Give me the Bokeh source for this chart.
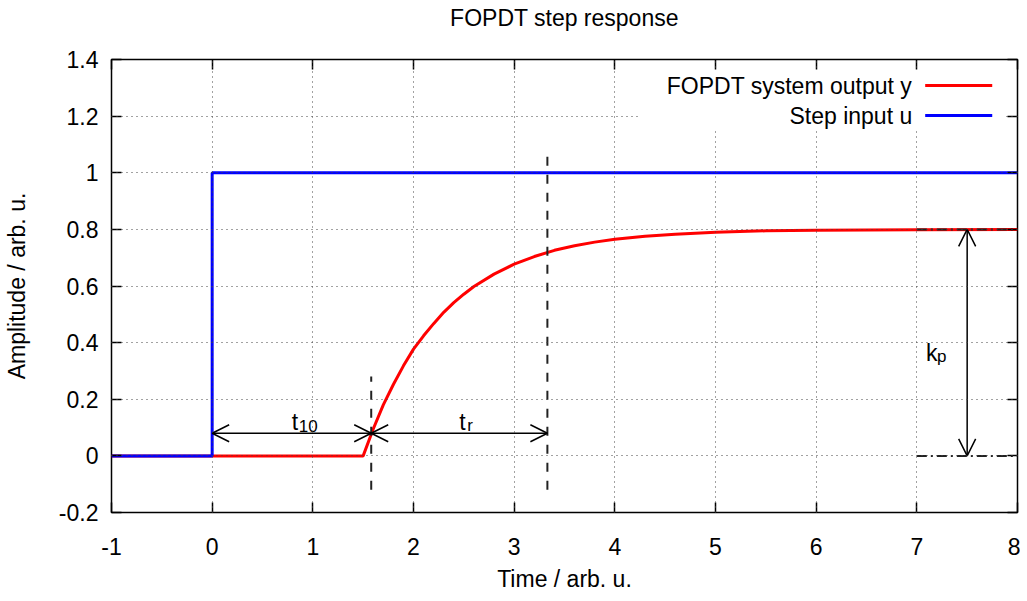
from bokeh.plotting import figure
from bokeh.models import (Range1d, LinearAxis, FixedTicker, Label, Arrow, OpenHead,
                          BoxAnnotation, CustomLabelingPolicy)
from bokeh.embed import file_html
from bokeh.resources import INLINE

# ---------------- data ----------------
# FOPDT system output y
time_y = [-1.0, 1.5, 1.6, 1.7, 1.8, 1.9, 2.0, 2.1, 2.2, 2.3, 2.4, 2.5, 2.6, 2.8,
          3.0, 3.2, 3.4, 3.6, 3.8, 4.0, 4.3, 4.6, 5.0, 5.5, 6.0, 6.5, 7.0, 8.0]
output_y = [0.0, 0.0, 0.095, 0.18, 0.252, 0.318, 0.377, 0.424, 0.467, 0.507, 0.541,
            0.571, 0.598, 0.642, 0.677, 0.704, 0.726, 0.742, 0.755, 0.765, 0.776,
            0.783, 0.790, 0.795, 0.797, 0.798, 0.799, 0.800]
# Step input u
time_u = [-1.0, 0.0, 0.0, 8.0]
input_u = [0.0, 0.0, 1.0, 1.0]

# characteristic values
step_time = 0.0
t10_time = 1.58
t90_time = 3.33
level_10 = 0.08
kp = 0.8
kp_arrow_x = 7.5
kp_guide_start = 7.0
marker_bottom = -0.12
t10_marker_top = 0.28
t90_marker_top = 1.08

x_ticks = [-1, 0, 1, 2, 3, 4, 5, 6, 7, 8]
x_tick_labels = ["-1", "0", "1", "2", "3", "4", "5", "6", "7", "8"]
y_ticks = [-0.2, 0.0, 0.2, 0.4, 0.6, 0.8, 1.0, 1.2, 1.4]
y_tick_labels = ["-0.2", "0", "0.2", "0.4", "0.6", "0.8", "1", "1.2", "1.4"]

FONT = "Liberation Sans"
FS = "23px"
SUB = "17px"

p = figure(x_range=Range1d(-1, 8), y_range=Range1d(-0.2, 1.4),
           frame_width=906, frame_height=453,
           min_border_left=104, min_border_right=3, min_border_top=59, min_border_bottom=79,
           output_backend="svg", toolbar_location=None)
p.outline_line_color = "black"
p.outline_line_width = 1.5
p.background_fill_color = "white"
p.border_fill_color = "white"

# second (empty) line keeps the title high in the top border, like the reference
p.title.text = "FOPDT step response\n"
p.title.align = "center"
p.title.vertical_align = "top"
p.title.text_font = FONT
p.title.text_font_size = FS
p.title.text_font_style = "normal"
p.title.text_color = "black"
p.title.standoff = 2
p.title.offset = 6

# axes
for ax in (p.xaxis[0], p.yaxis[0]):
    ax.axis_line_color = None
    ax.major_tick_in = 10
    ax.major_tick_out = 0
    ax.major_tick_line_width = 1.5
    ax.major_tick_line_color = "black"
    ax.minor_tick_line_color = None
    ax.major_label_text_font = FONT
    ax.major_label_text_font_size = FS
    ax.major_label_text_color = "black"
    ax.axis_label_text_font = FONT
    ax.axis_label_text_font_size = FS
    ax.axis_label_text_font_style = "normal"
    ax.axis_label_text_color = "black"

p.xaxis.ticker = FixedTicker(ticks=x_ticks)
p.yaxis.ticker = FixedTicker(ticks=y_ticks)
p.xaxis.major_label_overrides = {t: l for t, l in zip(x_ticks, x_tick_labels)}
p.yaxis.major_label_overrides = {t: l for t, l in zip(y_ticks, y_tick_labels)}
p.xaxis.axis_label = "Time / arb. u."
p.yaxis.axis_label = "Amplitude / arb. u."
p.xaxis.major_label_standoff = 25
p.xaxis.axis_label_standoff = 8
p.yaxis.major_label_standoff = 13
p.yaxis.axis_label_standoff = 26

# mirrored ticks on top and right (no labels)
hide_all = CustomLabelingPolicy(code="""
try { for (let i = 0; i < indices.size; i++) indices.unset(i) } catch (e) {}
return indices
""")
top_ax = LinearAxis(ticker=FixedTicker(ticks=x_ticks))
right_ax = LinearAxis(ticker=FixedTicker(ticks=y_ticks))
for ax in (top_ax, right_ax):
    ax.axis_line_color = None
    ax.major_tick_in = 10
    ax.major_tick_out = 0
    ax.major_tick_line_width = 1.5
    ax.major_tick_line_color = "black"
    ax.minor_tick_line_color = None
    ax.major_label_text_font_size = "0px"
    ax.major_label_standoff = 0
    ax.major_label_policy = hide_all
p.add_layout(top_ax, "above")
p.add_layout(right_ax, "right")

# grid (drawn on top of curves like the reference)
p.xgrid.ticker = FixedTicker(ticks=x_ticks)
p.ygrid.ticker = FixedTicker(ticks=y_ticks)
for g in (p.xgrid[0], p.ygrid[0]):
    g.grid_line_color = "#444444"
    g.grid_line_width = 1
    g.grid_line_dash = "1 4"
    g.level = "overlay"

# curves
p.line(time_y, output_y, line_color="#ff0000", line_width=3)
p.line(time_u, input_u, line_color="#0000ff", line_width=3)

# dashed vertical markers
p.segment(x0=[t10_time, t90_time], y0=[marker_bottom, marker_bottom],
          x1=[t10_time, t90_time], y1=[t10_marker_top, t90_marker_top],
          line_color="#222222", line_width=2, line_dash="9 9")
# dash-dot gain guides
p.segment(x0=[kp_guide_start, kp_guide_start], y0=[0.0, kp],
          x1=[8.0, 8.0], y1=[0.0, kp],
          line_color="#222222", line_width=2, line_dash="10 4 2 4")

# arrows
def head():
    return OpenHead(size=17, line_width=1.5, line_color="black")

def arrow(x0, x1, y0, y1):
    return Arrow(x_start=x0, x_end=x1, y_start=y0, y_end=y1, line_width=1.5,
                 line_color="black", start=head(), end=head())

p.add_layout(arrow(step_time, t10_time, level_10, level_10))
p.add_layout(arrow(t10_time, t90_time, level_10, level_10))
p.add_layout(arrow(kp_arrow_x, kp_arrow_x, 0.0, kp))

# annotation texts with subscripts
def lab(x, y, text, size, xoff=0):
    return Label(x=x, y=y, text=text, x_offset=xoff, text_font=FONT, text_font_size=size,
                 text_align="left", text_baseline="alphabetic", text_color="black")

mid10 = (step_time + t10_time) / 2
midr = (t10_time + t90_time) / 2
p.add_layout(lab(mid10, 0.121, "t", FS))
p.add_layout(lab(mid10, 0.107, "10", SUB, 7))
p.add_layout(lab(midr, 0.121, "t", FS))
p.add_layout(lab(midr, 0.107, "r", SUB, 8))
p.add_layout(lab(7.09, 0.365, "k", FS))
p.add_layout(lab(7.09, 0.351, "p", SUB, 11))

# legend (text on the left, sample on the right, like gnuplot)
p.add_layout(BoxAnnotation(left=4.23, right=7.87, top=1.36, bottom=1.15,
                           fill_color="white", fill_alpha=1.0, line_color=None, level="overlay"))
legend_items = [("FOPDT system output y", "#ff0000", 1.308), ("Step input u", "#0000ff", 1.202)]
for text, color, ly in legend_items:
    p.add_layout(BoxAnnotation(left=7.083, right=7.749, top=ly + 0.0053, bottom=ly - 0.0053,
                               fill_color=color, fill_alpha=1.0, line_color=None, level="overlay"))
    p.add_layout(Label(x=6.954, y=ly, text=text, text_font=FONT, text_font_size=FS,
                       text_align="right", text_baseline="middle", text_color="black",
                       level="overlay"))

open("out.html", "w").write(file_html(p, INLINE))
